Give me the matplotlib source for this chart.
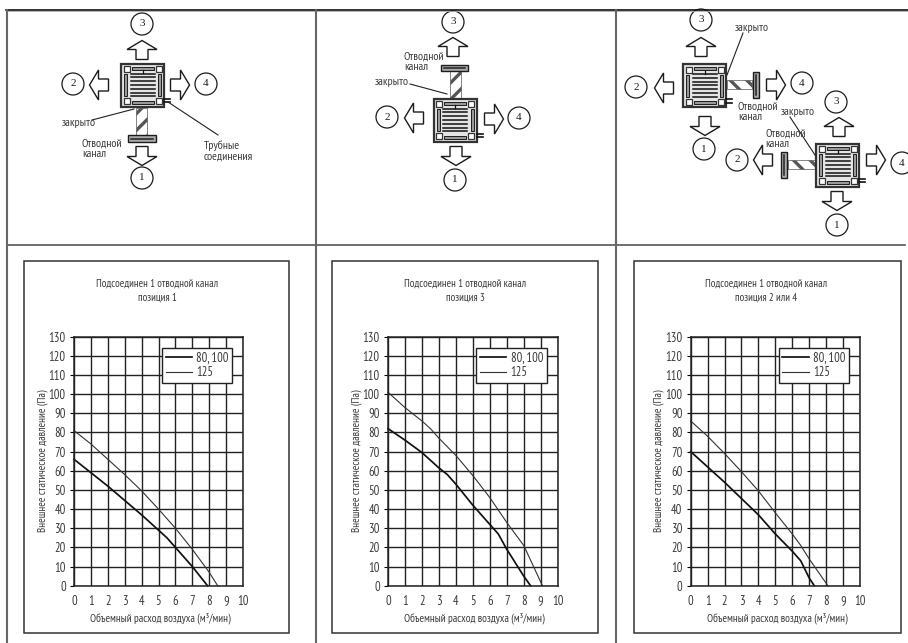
import matplotlib
matplotlib.use('Agg')
import matplotlib.pyplot as plt
from matplotlib.patches import Circle, Polygon, Rectangle

W, H = 908, 643

plt.rcParams['font.family'] = ['PT Sans Narrow', 'Roboto Condensed', 'Liberation Sans']
plt.rcParams['hatch.linewidth'] = 2.4

TXT = '#3a3a3a'
INK = '#1c1c1c'

# chart data
x_ticks = list(range(0, 11))
y_ticks = list(range(0, 131, 10))
legend_labels = ['80, 100', '125']
x_label = 'Объемный расход воздуха (м³/мин)'
y_label = 'Внешнее статическое давление (Па)'

title_1 = 'Подсоединен 1 отводной канал\nпозиция 1'
x1_heavy = [0, 1, 2, 3, 4, 5, 5.5, 6, 7, 7.9]
y1_heavy = [66, 59, 52, 44.5, 37, 29, 25, 20, 10, 0]
x1_light = [0, 1, 2, 3, 4, 5, 6, 7, 8, 8.5]
y1_light = [81, 74, 66, 58, 49.5, 40, 30, 19, 7, 0]

title_2 = 'Подсоединен 1 отводной канал\nпозиция 3'
x2_heavy = [0, 1, 2, 3, 3.5, 4, 5, 6, 6.5, 7, 8, 8.4]
y2_heavy = [82, 76, 69.5, 61.5, 58, 53, 42, 32, 27, 19, 5, 0]
x2_light = [0, 1, 2, 2.5, 3, 4, 5, 6, 7, 8, 9.1]
y2_light = [101, 93, 86, 82, 77, 68, 57.5, 46, 33, 21, 0]

title_3 = 'Подсоединен 1 отводной канал\nпозиция 2 или 4'
x3_heavy = [0, 1, 2, 3, 4, 5, 6, 6.5, 7, 7.3]
y3_heavy = [70, 62, 54, 45.5, 37, 27, 18, 13, 4, 0]
x3_light = [0, 1, 2, 3, 4, 5, 6, 6.5, 7, 8.1]
y3_light = [86, 78, 69, 59.5, 49.5, 38, 27, 21, 14, 0]

fig = plt.figure(figsize=(W / 100, H / 100), dpi=100)

# background layer in image pixels, for the table and the unit sketches
bg = fig.add_axes([0, 0, 1, 1])
bg.set_xlim(0, W)
bg.set_ylim(H, 0)
bg.axis('off')

bg.plot([6, 908], [9.5, 9.5], color='#111111', lw=1.2)
bg.plot([6, 908], [10.5, 10.5], color='#aaaaaa', lw=0.6)
bg.plot([7, 905], [244.5, 244.5], color='#555555', lw=1.2)
for xv in (7, 315.5, 615.5):
    bg.plot([xv, xv], [9.5, 643], color='#666666', lw=1.5)


def arrow(cx, cy, direction):
    shape = [(-6, 9.5), (-6, -0.5), (-15, -0.5), (0, -9.5), (15, -0.5), (6, -0.5), (6, 9.5)]
    turn = {'up': lambda p: p,
            'down': lambda p: (p[0], -p[1]),
            'left': lambda p: (p[1], p[0]),
            'right': lambda p: (-p[1], p[0])}[direction]
    pts = [(cx + turn(p)[0], cy + turn(p)[1]) for p in shape]
    bg.add_patch(Polygon(pts, closed=True, fc='white', ec=INK, lw=1.0))


def circled(cx, cy, txt):
    bg.add_patch(Circle((cx, cy), 11, fc='white', ec=INK, lw=0.9))
    bg.text(cx, cy, txt, ha='center', va='center', fontsize=8,
            family=['Liberation Serif'], color=INK)


def slot(x, y, w, h):
    bg.add_patch(Rectangle((x, y), w, h, fc='#999999', ec=INK, lw=0.7))


def unit(cx, cy):
    # square cassette seen from below
    s = 21.5
    bg.add_patch(Rectangle((cx - s, cy - s), 2 * s, 2 * s, fc='#e4e4e4', ec='#333333', lw=1.6))
    for dx in (-1, 1):
        for dy in (-1, 1):
            bg.add_patch(Rectangle((cx + dx * 16 - 3, cy + dy * 16 - 3), 6, 6, fc='white', ec='#333333', lw=0.9))
    slot(cx - 11, cy - 18.5, 22, 3)
    slot(cx - 11, cy + 15.5, 22, 3)
    slot(cx - 18.5, cy - 11, 3, 22)
    slot(cx + 15.5, cy - 11, 3, 22)
    for k in range(7):
        yy = cy - 11.5 + k * 3.8
        bg.plot([cx - 12, cx + 12], [yy, yy], color='#111111', lw=1.1)
    bg.plot([cx, cx], [cy - 15, cy - 12], color='#111111', lw=0.9)
    bg.plot([cx + s, cx + s + 6], [cy + 13.5, cy + 13.5], color='#111111', lw=1.2)
    bg.plot([cx + s, cx + s + 6], [cy + 17, cy + 17], color='#111111', lw=1.2)


def branch(x, y, w, h, pattern):
    bg.add_patch(Rectangle((x, y), w, h, fc='white', ec='#555555', lw=0.5, hatch=pattern))


def cap(x, y, w, h):
    bg.add_patch(Rectangle((x, y), w, h, fc='#aaaaaa', ec=INK, lw=1.0))
    if w > h:
        bg.plot([x + 3, x + w - 3], [y + h / 2, y + h / 2], color='#222222', lw=1.1)
    else:
        bg.plot([x + w / 2, x + w / 2], [y + 3, y + h - 3], color='#222222', lw=1.1)


def note(x, y, txt):
    bg.text(x, y, txt, fontsize=8.5, ha='left', va='center', color=TXT, linespacing=1.0)


def leader(x0, y0, x1, y1):
    bg.plot([x0, x1], [y0, y1], color='#222222', lw=0.8)


# sketch 1
branch(136, 108, 11, 27, '//')
cap(128, 135, 28, 7)
unit(142.5, 85)
arrow(142, 50, 'up')
arrow(142, 156, 'down')
arrow(99, 85, 'left')
arrow(180, 85, 'right')
circled(142, 24, '3')
circled(142, 178, '1')
circled(73, 84, '2')
circled(206, 84, '4')
note(62, 123, 'закрыто')
leader(92, 120, 134, 109)
note(82, 149, 'Отводной\nканал')
leader(168, 102, 218, 135)
note(204, 151, 'Трубные\nсоединения')

# sketch 2
branch(450, 71, 11, 27, '//')
cap(441, 65, 27, 6)
unit(455, 120)
arrow(453, 47, 'up')
arrow(456, 156, 'down')
arrow(414, 118, 'left')
arrow(494, 119, 'right')
circled(453, 22, '3')
circled(455, 180, '1')
circled(387, 117, '2')
circled(519, 118, '4')
note(404, 62, 'Отводной\nканал')
note(375, 82, 'закрыто')
leader(410, 84, 447, 94)

# sketch 3, upper unit
branch(727, 80, 25, 9, '\\\\')
cap(753, 72, 6, 26)
unit(704.5, 85.5)
arrow(701, 47, 'up')
arrow(705, 126, 'down')
arrow(664, 88, 'left')
arrow(776, 85, 'right')
circled(701, 20, '3')
circled(704, 149, '1')
circled(636, 87, '2')
circled(802, 83, '4')
note(735, 28, 'закрыто')
leader(743, 33, 727, 75)
note(738, 112, 'Отводной\nканал')

# sketch 3, lower unit
branch(788, 160, 28, 9, '\\\\')
cap(781, 152, 6, 26)
unit(837.5, 165)
arrow(839, 127, 'up')
arrow(837, 201, 'down')
arrow(763, 160, 'left')
arrow(876, 160, 'right')
circled(836, 102, '3')
circled(837, 225, '1')
circled(737, 160, '2')
circled(902, 163, '4')
note(781, 112, 'закрыто')
leader(790, 117, 815, 155)
note(765, 139, 'Отводной\nканал')


def chart(box_x0, box_x1, ax_x0, ax_x1, title, title_x, ylab_x, xh, yh, xl, yl):
    box_y0, box_y1 = 261, 633
    bg.add_patch(Rectangle((box_x0, box_y0), box_x1 - box_x0, box_y1 - box_y0,
                           fc='white', ec='#333333', lw=1.1, zorder=1))
    bg.text(title_x, 291, title, fontsize=7.8, ha='center', va='center',
            color=TXT, linespacing=1.5, zorder=2)
    top, bottom = 336.7, 585.7
    ax = fig.add_axes([ax_x0 / W, 1 - bottom / H, (ax_x1 - ax_x0) / W, (bottom - top) / H])
    ax.patch.set_alpha(0)
    ax.set_xlim(0, 10)
    ax.set_ylim(0, 130)
    ax.set_xticks(x_ticks)
    ax.set_yticks(y_ticks)
    ax.grid(True, color='#222222', lw=1.0)
    ax.set_axisbelow(True)
    ax.tick_params(axis='y', length=3, width=0.8, labelsize=9, pad=3, labelcolor=TXT)
    ax.tick_params(axis='x', length=0, labelsize=9, pad=7, labelcolor=TXT)
    for sp in ax.spines.values():
        sp.set_color('#222222')
        sp.set_linewidth(1.1)
    ax.plot(xh, yh, color='#111111', lw=1.25, label=legend_labels[0], clip_on=False)
    ax.plot(xl, yl, color='#333333', lw=0.8, label=legend_labels[1], clip_on=False)
    ax.set_xlabel(x_label, fontsize=8, color=TXT, va='center')
    ax.xaxis.set_label_coords(0.51, -(618 - bottom) / (bottom - top))
    ax.set_ylabel(y_label, fontsize=8, color=TXT, va='center')
    ax.yaxis.set_label_coords((ylab_x - ax_x0) / (ax_x1 - ax_x0), 0.5)
    leg = ax.legend(loc='upper left', bbox_to_anchor=(0.52, 0.955), fontsize=9, frameon=True,
                    fancybox=False, framealpha=1, edgecolor='#222222', borderaxespad=0,
                    handlelength=2.1, handletextpad=0.35, labelspacing=0.1, borderpad=0.3)
    leg.get_frame().set_linewidth(1.0)
    for t in leg.get_texts():
        t.set_color(TXT)


chart(23.5, 289, 74, 243, title_1, 157, 42.7, x1_heavy, y1_heavy, x1_light, y1_light)
chart(331.7, 597.7, 388, 557.7, title_2, 465, 356.7, x2_heavy, y2_heavy, x2_light, y2_light)
chart(634, 900.7, 690.7, 860, title_3, 766, 658.7, x3_heavy, y3_heavy, x3_light, y3_light)

fig.savefig('out.png', dpi=100)
